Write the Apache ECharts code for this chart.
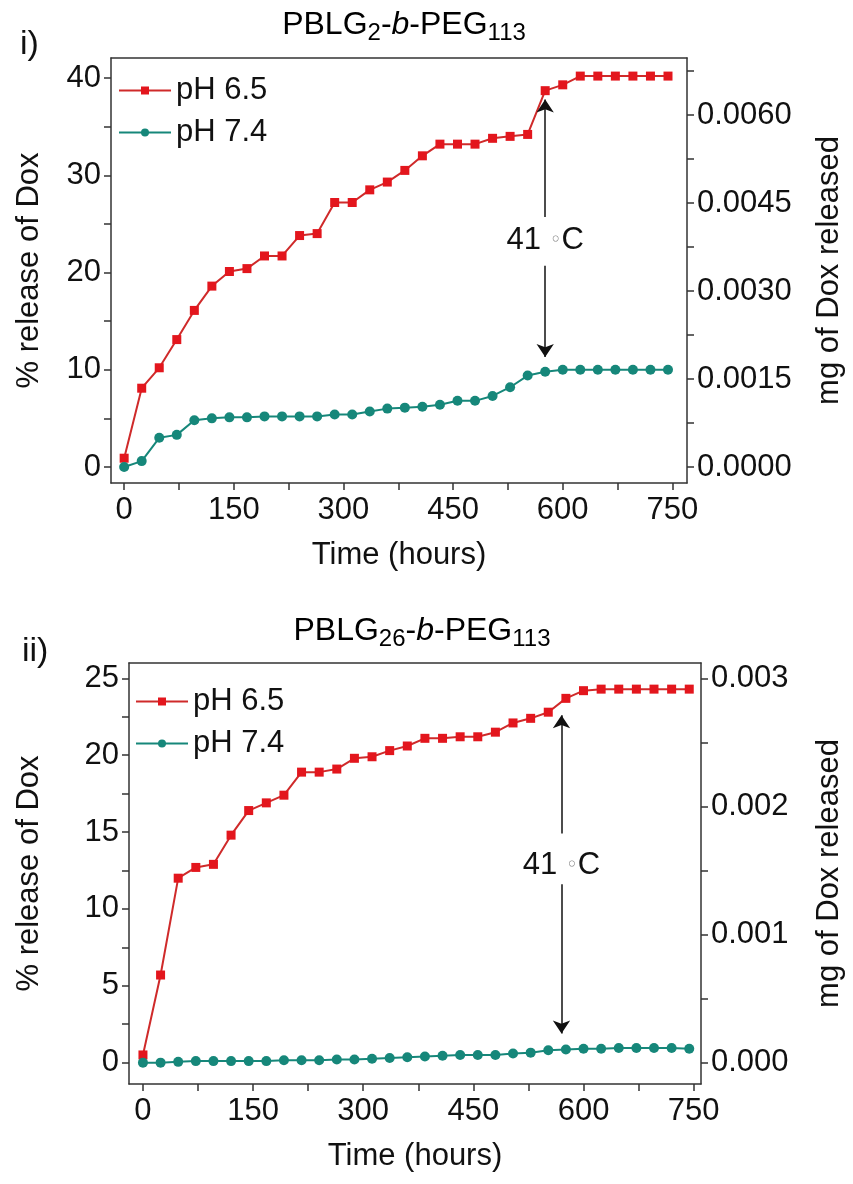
<!DOCTYPE html>
<html>
<head>
<meta charset="utf-8">
<script src="https://cdn.jsdelivr.net/npm/echarts@6/dist/echarts.min.js"></script>
<style>
  html, body { margin: 0; padding: 0; background: #fff; }
  #main { width: 853px; height: 1184px; }
</style>
</head>
<body>
<div id="main"></div>
<script>
// 时间点 (hours)
var hours = [0, 24, 48, 72, 96, 120, 144, 168, 192, 216, 240, 264, 288, 312, 336, 360,
             384, 408, 432, 456, 480, 504, 528, 552, 576, 600, 624, 648, 672, 696, 720, 744];

// panel i: PBLG2-b-PEG113, % release
var p1Ph65 = [0.9, 8.1, 10.2, 13.1, 16.1, 18.6, 20.1, 20.4, 21.7, 21.7, 23.8, 24.0, 27.2, 27.2, 28.5, 29.3,
              30.5, 32.0, 33.2, 33.2, 33.2, 33.8, 34.0, 34.2, 38.7, 39.3, 40.2, 40.2, 40.2, 40.2, 40.2, 40.2];
var p1Ph74 = [0.0, 0.6, 3.0, 3.3, 4.8, 5.0, 5.1, 5.1, 5.2, 5.2, 5.2, 5.2, 5.4, 5.4, 5.7, 6.0,
              6.1, 6.2, 6.4, 6.8, 6.8, 7.3, 8.2, 9.4, 9.8, 10.0, 10.0, 10.0, 10.0, 10.0, 10.0, 10.0];

// panel ii: PBLG26-b-PEG113, % release
var p2Ph65 = [0.5, 5.7, 12.0, 12.7, 12.9, 14.8, 16.4, 16.9, 17.4, 18.9, 18.9, 19.1, 19.8, 19.9, 20.3, 20.6,
              21.1, 21.1, 21.2, 21.2, 21.5, 22.1, 22.4, 22.8, 23.7, 24.2, 24.3, 24.3, 24.3, 24.3, 24.3, 24.3];
var p2Ph74 = [0.0, 0.0, 0.05, 0.1, 0.1, 0.1, 0.1, 0.1, 0.15, 0.15, 0.15, 0.2, 0.2, 0.25, 0.3, 0.35,
              0.4, 0.45, 0.5, 0.5, 0.5, 0.6, 0.65, 0.8, 0.85, 0.9, 0.9, 0.95, 0.95, 0.95, 0.95, 0.9];

// tick labels
var xLabels = [0, 150, 300, 450, 600, 750];
var xTicks = [0, 75, 150, 225, 300, 375, 450, 525, 600, 675, 750];
var y1Labels = [0, 10, 20, 30, 40];
var y1Ticks = [0, 5, 10, 15, 20, 25, 30, 35, 40];
var r1Labels = [0, 0.0015, 0.003, 0.0045, 0.006];
var r1Ticks = [0, 0.00075, 0.0015, 0.00225, 0.003, 0.00375, 0.0045, 0.00525, 0.006, 0.00675];
var y2Labels = [0, 5, 10, 15, 20, 25];
var y2Ticks = [0, 2.5, 5, 7.5, 10, 12.5, 15, 17.5, 20, 22.5, 25];
var r2Labels = [0, 0.001, 0.002, 0.003];
var r2Ticks = [0, 0.0005, 0.001, 0.0015, 0.002, 0.0025, 0.003];

// 41 °C 箭头: [hour, 上箭头起点, 上箭头终点, 下箭头起点, 下箭头终点, 文字位置]
var arrow1 = [576, 25.7, 37.8, 20.7, 11.3, 23.3];
var arrow2 = [570, 14.9, 22.6, 11.6, 1.9, 12.8];

var FONT = 'Liberation Sans, Arial, sans-serif';
var FS = 31;
var RED = '#e3161d';
var RED_LINE = '#cf2a2a';
var TEAL = '#16877a';
var AX = '#333';

function pairs(xs, ys) {
    return xs.map(function (x, i) { return [x, ys[i]]; });
}

function bottomAxis(gridIndex, min, max) {
    return {
        type: 'value', gridIndex: gridIndex, position: 'bottom', min: min, max: max,
        name: 'Time (hours)', nameLocation: 'middle', nameGap: 57,
        nameTextStyle: { fontSize: FS, color: '#111', fontFamily: FONT },
        axisLine: { show: true, onZero: false, lineStyle: { color: AX, width: 1.5 } },
        axisTick: { show: true, length: 7, lineStyle: { color: AX, width: 1.5 }, customValues: xTicks },
        axisLabel: { fontSize: FS, color: '#111', fontFamily: FONT, margin: 12, customValues: xLabels },
        splitLine: { show: false }
    };
}

function topAxis(gridIndex, min, max) {
    return {
        type: 'value', gridIndex: gridIndex, position: 'top', min: min, max: max,
        axisLine: { show: true, onZero: false, lineStyle: { color: AX, width: 1.5 } },
        axisTick: { show: false }, axisLabel: { show: false }, splitLine: { show: false }
    };
}

function leftAxis(gridIndex, min, max, labels, ticks, gap) {
    return {
        type: 'value', gridIndex: gridIndex, position: 'left', min: min, max: max,
        name: '% release of Dox', nameLocation: 'middle', nameGap: gap,
        nameTextStyle: { fontSize: FS, color: '#111', fontFamily: FONT },
        axisLine: { show: true, onZero: false, lineStyle: { color: AX, width: 1.5 } },
        axisTick: { show: true, length: 7, lineStyle: { color: AX, width: 1.5 }, customValues: ticks },
        axisLabel: { fontSize: FS, color: '#111', fontFamily: FONT, margin: 10, customValues: labels },
        splitLine: { show: false }
    };
}

function rightAxis(gridIndex, min, max, labels, ticks, digits, gap) {
    return {
        type: 'value', gridIndex: gridIndex, position: 'right', min: min, max: max,
        name: 'mg of Dox released', nameLocation: 'middle', nameGap: gap,
        nameTextStyle: { fontSize: FS, color: '#111', fontFamily: FONT },
        axisLine: { show: true, onZero: false, lineStyle: { color: AX, width: 1.5 } },
        axisTick: { show: true, length: 7, lineStyle: { color: AX, width: 1.5 }, customValues: ticks },
        axisLabel: {
            fontSize: FS, color: '#111', fontFamily: FONT, margin: 10, customValues: labels,
            formatter: function (v) { return v.toFixed(digits); }
        },
        splitLine: { show: false }
    };
}

function lineSeries(name, xi, yi, data, color, lineColor, symbol, size) {
    return {
        name: name, type: 'line', xAxisIndex: xi, yAxisIndex: yi,
        data: data, symbol: symbol, symbolSize: size,
        itemStyle: { color: color },
        lineStyle: { color: lineColor, width: 2 },
        z: symbol === 'rect' ? 3 : 4
    };
}

function arrowMarks(a) {
    return {
        markLine: {
            silent: true, symbol: ['none', 'arrow'], symbolSize: 13,
            label: { show: false },
            lineStyle: { color: '#111', type: 'solid', width: 1.5 },
            itemStyle: { color: '#111' },
            data: [
                [{ coord: [a[0], a[1]] }, { coord: [a[0], a[2]] }],
                [{ coord: [a[0], a[3]] }, { coord: [a[0], a[4]] }]
            ]
        },
        markPoint: {
            silent: true, symbol: 'circle', symbolSize: 1,
            itemStyle: { color: 'rgba(0,0,0,0)' },
            data: [{
                coord: [a[0], a[5]],
                label: {
                    show: true, position: 'inside', color: '#111', fontSize: FS, fontFamily: FONT,
                    formatter: '41 {d|\u25E6}C',
                    rich: { d: { fontSize: 20, color: '#888', fontFamily: 'DejaVu Sans' } }
                }
            }]
        }
    };
}

function titleRich() {
    return {
        m: { fontSize: 32, fontFamily: FONT, color: '#111', lineHeight: 36, verticalAlign: 'top' },
        i: { fontSize: 32, fontFamily: FONT, color: '#111', fontStyle: 'italic', lineHeight: 36, verticalAlign: 'top' },
        s: { fontSize: 24, fontFamily: FONT, color: '#111', lineHeight: 16, verticalAlign: 'bottom' }
    };
}

function legendAt(left, top) {
    return {
        data: ['pH 6.5', 'pH 7.4'], orient: 'vertical', left: left, top: top,
        itemWidth: 52, itemHeight: 10, itemGap: 11, selectedMode: false,
        textStyle: { fontSize: FS, color: '#111', fontFamily: FONT }
    };
}

function init() {
    var myChart = echarts.init(document.getElementById('main'));

    var x1 = [-18, 770], y1 = [-1.65, 42.06];
    var x2 = [-19, 760], y2 = [-1.39, 26.0];
    var k1 = 0.0001658, k2 = 0.00012; // mg per %

    var s0 = lineSeries('pH 6.5', 0, 0, pairs(hours, p1Ph65), RED, RED_LINE, 'rect', 9);
    Object.assign(s0, arrowMarks(arrow1));
    var s2 = lineSeries('pH 6.5', 2, 2, pairs(hours, p2Ph65), RED, RED_LINE, 'rect', 9);
    Object.assign(s2, arrowMarks(arrow2));

    var option = {
        animation: false,
        backgroundColor: '#fff',
        textStyle: { fontFamily: FONT },
        grid: [
            { left: 111, right: 164, top: 58, height: 425 },
            { left: 129, right: 146, top: 663, height: 421 }
        ],
        legend: [legendAt(113, 70), legendAt(130, 681)],
        xAxis: [
            bottomAxis(0, x1[0], x1[1]), topAxis(0, x1[0], x1[1]),
            bottomAxis(1, x2[0], x2[1]), topAxis(1, x2[0], x2[1])
        ],
        yAxis: [
            leftAxis(0, y1[0], y1[1], y1Labels, y1Ticks, 66),
            rightAxis(0, y1[0] * k1, y1[1] * k1, r1Labels, r1Ticks, 4, 127),
            leftAxis(1, y2[0], y2[1], y2Labels, y2Ticks, 84),
            rightAxis(1, y2[0] * k2, y2[1] * k2, r2Labels, r2Ticks, 3, 113)
        ],
        graphic: [
            { type: 'text', x: 20, y: 45, style: { text: 'i)', fontSize: 34, fontFamily: FONT, fill: '#111', verticalAlign: 'middle' } },
            { type: 'text', x: 22, y: 652, style: { text: 'ii)', fontSize: 34, fontFamily: FONT, fill: '#111', verticalAlign: 'middle' } },
            {
                type: 'text', x: 404, y: 9,
                style: { text: '{m|PBLG}{s|2}{m|-}{i|b}{m|-PEG}{s|113}', rich: titleRich(), align: 'center' }
            },
            {
                type: 'text', x: 422, y: 615,
                style: { text: '{m|PBLG}{s|26}{m|-}{i|b}{m|-PEG}{s|113}', rich: titleRich(), align: 'center' }
            }
        ],
        series: [
            s0,
            lineSeries('pH 7.4', 0, 0, pairs(hours, p1Ph74), TEAL, TEAL, 'circle', 10),
            s2,
            lineSeries('pH 7.4', 2, 2, pairs(hours, p2Ph74), TEAL, TEAL, 'circle', 10)
        ]
    };

    myChart.setOption(option);
    window.addEventListener('resize', function () {
        myChart.resize();
    });
}

init();
</script>
</body>
</html>
